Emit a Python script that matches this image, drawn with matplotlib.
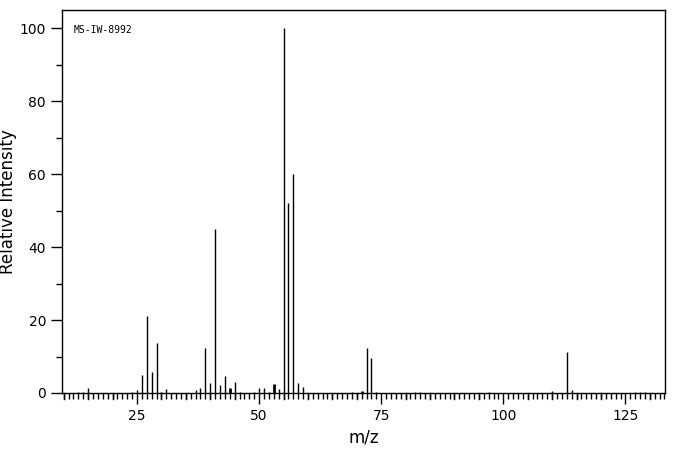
import matplotlib
matplotlib.use("Agg")
import matplotlib.pyplot as plt
from matplotlib.ticker import MultipleLocator

# peaks
mz = [13, 14, 15, 24, 25, 26, 27, 28, 29, 30, 31, 37, 38, 39, 40, 41, 42, 43, 44, 45, 46,
      49, 50, 51, 52, 53, 54, 55, 56, 57, 58, 59, 69, 71, 72, 73, 74, 82, 83, 97,
      110, 113, 114, 127, 128, 129]
intensity = [0.3, 0.3, 1.4, 0.3, 0.8, 4.9, 21.0, 5.8, 13.7, 0.3, 1.1, 0.7, 1.4, 12.3, 2.8, 45.0,
             2.2, 4.7, 1.4, 3.0, 0.3, 0.3, 1.4, 1.4, 0.3, 2.5, 1.1, 100.0, 52.0, 60.0, 2.8, 1.6,
             0.3, 0.5, 12.3, 9.6, 0.3, 0.3, 0.3, 0.3, 0.5, 11.2, 0.8, 0.3, 0.3, 0.3]
thick = {44, 53, 71}

fig = plt.figure(figsize=(6.76, 4.55), dpi=100)
ax = fig.add_axes([0.0917, 0.1363, 0.892, 0.8417])

for m, v in zip(mz, intensity):
    ax.vlines(m, 0, v, color="black", linewidth=2.0 if m in thick else 1.0)

ax.set_xlim(9.65, 133.1)
ax.set_ylim(0, 105)
ax.xaxis.set_major_locator(MultipleLocator(25))
ax.xaxis.set_minor_locator(MultipleLocator(1))
ax.yaxis.set_major_locator(MultipleLocator(20))
ax.yaxis.set_minor_locator(MultipleLocator(10))
ax.tick_params(which="major", direction="out", length=8, width=1, labelsize=10, top=False, right=False)
ax.tick_params(which="minor", direction="out", length=4, width=1, top=False, right=False)
# medium ticks every 5
for t in range(10, 135, 5):
    if t % 25:
        ax.plot([t, t], [0, -0.017], transform=ax.get_xaxis_transform(), color="black",
                linewidth=1, clip_on=False)
for s in ax.spines.values():
    s.set_linewidth(1)

ax.set_xlabel("m/z", fontsize=12, labelpad=4)
ax.set_ylabel("Relative Intensity", fontsize=12, labelpad=2)
ax.text(0.02, 0.94, "MS-IW-8992", transform=ax.transAxes, fontsize=7, family="DejaVu Sans Mono")

fig.savefig("out.png", dpi=100)
